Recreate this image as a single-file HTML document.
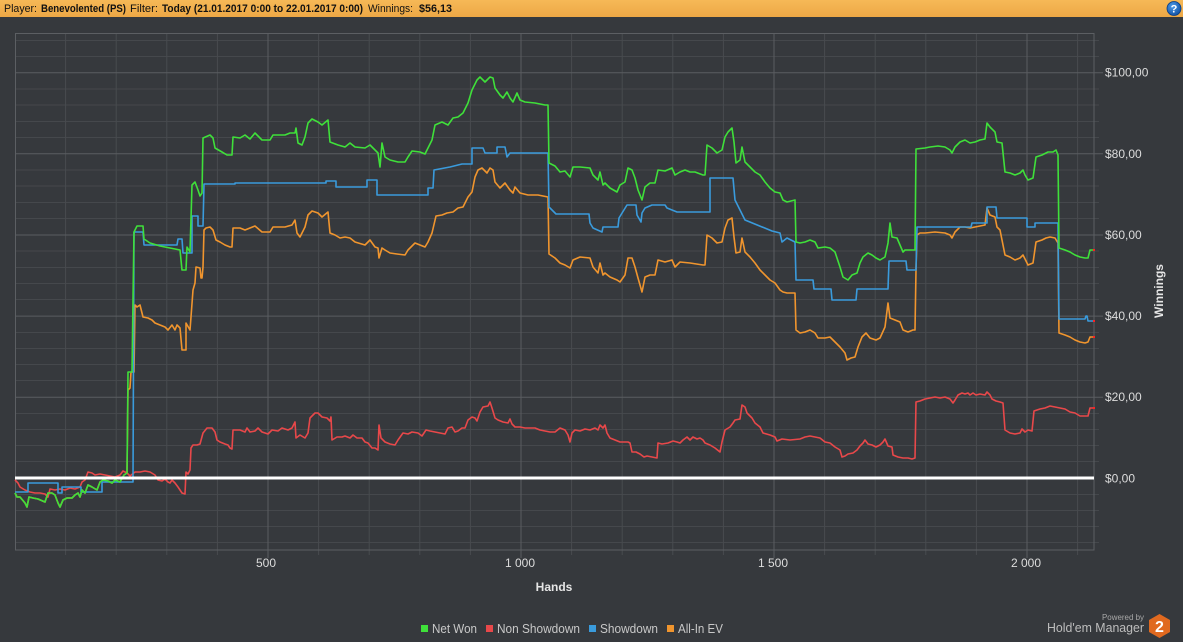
<!DOCTYPE html>
<html><head><meta charset="utf-8"><style>
html,body{margin:0;padding:0;background:#36393d;width:1183px;height:642px;overflow:hidden}
svg{display:block}
text{font-family:"Liberation Sans",sans-serif}
</style></head><body>
<svg width="1183" height="642" viewBox="0 0 1183 642" xmlns="http://www.w3.org/2000/svg">
<defs>
<linearGradient id="hb" x1="0" y1="0" x2="0" y2="1"><stop offset="0" stop-color="#f6b957"/><stop offset="1" stop-color="#eda846"/></linearGradient>
<radialGradient id="hq" cx="0.4" cy="0.35" r="0.7"><stop offset="0" stop-color="#4f9be8"/><stop offset="1" stop-color="#0f4fa3"/></radialGradient>
</defs>
<rect x="0" y="0" width="1183" height="642" fill="#36393d"/>
<!-- header -->
<rect x="0" y="0" width="1183" height="17" fill="url(#hb)"/>
<g font-size="11" fill="#111">
<text x="4" y="12" textLength="33" lengthAdjust="spacingAndGlyphs">Player:</text>
<text x="41" y="12" font-weight="bold" textLength="85" lengthAdjust="spacingAndGlyphs">Benevolented (PS)</text>
<text x="130" y="12" textLength="28" lengthAdjust="spacingAndGlyphs">Filter:</text>
<text x="162" y="12" font-weight="bold" textLength="201" lengthAdjust="spacingAndGlyphs">Today (21.01.2017 0:00 to 22.01.2017 0:00)</text>
<text x="368" y="12" textLength="45" lengthAdjust="spacingAndGlyphs">Winnings:</text>
<text x="419" y="12" font-weight="bold" textLength="33" lengthAdjust="spacingAndGlyphs">$56,13</text>
</g>
<circle cx="1174" cy="8.5" r="7" fill="url(#hq)" stroke="#0b3d80" stroke-width="0.8"/>
<text x="1174" y="12.5" font-size="11" font-weight="bold" fill="#fff" text-anchor="middle">?</text>

<!-- grid minor horizontal -->
<g stroke="#45484c" stroke-width="1">
<path d="M15 40.5H1099M15 56.5H1099M15 89H1099M15 105H1099M15 121.5H1099M15 137.5H1099M15 170H1099M15 186H1099M15 202.5H1099M15 218.5H1099M15 251H1099M15 267.5H1099M15 283.5H1099M15 299.5H1099M15 332.5H1099M15 348.5H1099M15 364.5H1099M15 380.5H1099M15 413.5H1099M15 429.5H1099M15 445.5H1099M15 461.5H1099M15 494.5H1099M15 510.5H1099M15 526.5H1099M15 542.5H1099"/>
</g>
<!-- vertical grid -->
<g stroke="#484b4f" stroke-width="1">
<path d="M65.6 33V555M116.2 33V555M166.8 33V555M217.4 33V555M318.6 33V555M369.2 33V555M419.8 33V555M470.4 33V555M571.6 33V555M622.2 33V555M672.8 33V555M723.4 33V555M824.6 33V555M875.2 33V555M925.8 33V555M976.4 33V555M1077.6 33V555"/>
</g>
<g stroke="#5a5d61" stroke-width="1">
<path d="M268 33V558M521 33V558M774 33V558M1027 33V558"/>
<path d="M15 72.7H1103M15 153.8H1103M15 235H1103M15 316.1H1103M15 397.2H1103"/>
</g>
<!-- border -->
<rect x="15.5" y="33.5" width="1078.5" height="516.5" fill="none" stroke="#5c5f63" stroke-width="1"/>

<!-- axis labels -->
<g font-size="12" fill="#dcdcdc">
<text x="1105" y="76.7">$100,00</text>
<text x="1105" y="157.8">$80,00</text>
<text x="1105" y="239">$60,00</text>
<text x="1105" y="320.1">$40,00</text>
<text x="1105" y="401.2">$20,00</text>
<text x="1105" y="482.3">$0,00</text>
<text x="266" y="567" text-anchor="middle">500</text>
<text x="520" y="567" text-anchor="middle">1 000</text>
<text x="773" y="567" text-anchor="middle">1 500</text>
<text x="1026" y="567" text-anchor="middle">2 000</text>
</g>
<text x="554" y="591" font-size="12" font-weight="bold" fill="#e6e6e6" text-anchor="middle">Hands</text>
<text transform="translate(1163,291) rotate(-90)" font-size="12" font-weight="bold" fill="#e6e6e6" text-anchor="middle">Winnings</text>

<!-- series -->
<g fill="none" stroke-width="1.6" stroke-linejoin="round">
<polyline stroke="#e8484a" points="15,480 18,483 20,487 25,490 30,492 35,493 40,493 45,494 48,497 50,489 55,490 60,489 65,490 70,488 75,489 80,487 82,482 85,480 88,472 92,473 95,475 100,474 105,475 110,476 115,477 120,475 123,471 127,473 130,476 135,472 140,472 145,471 150,472 155,475 158,480 162,481 165,479 168,482 170,483 172,480 175,483 178,487 180,490 182,493 185,494 186,472 188,474 190,470 191,448 193,445 197,445 200,444 203,433 207,428 212,428 215,432 217,440 220,442 225,444 228,445 230,448 232,449 233,430 240,430 245,432 247,428 250,432 255,431 258,428 262,432 268,434 272,430 278,431 282,428 288,430 292,428 295,422 296,438 300,435 305,438 308,433 310,418 315,413 318,413 322,417 327,418 330,421 331,417 332,440 337,437 342,437 345,436 350,438 353,435 357,438 362,438 365,442 368,443 372,448 375,448 378,450 379,425 381,438 385,442 390,444 395,445 398,440 403,433 408,434 412,432 418,433 422,436 426,430 430,431 435,432 440,433 445,434 448,428 452,427 455,432 458,431 462,428 465,428 468,420 472,417 475,418 477,421 480,412 483,407 488,406 490,402 492,408 495,418 498,420 503,422 508,423 510,419 512,424 515,427 520,427 525,428 530,428 535,428 540,430 545,431 550,432 555,432 560,428 565,430 568,435 570,442 572,433 575,430 580,431 585,429 590,430 595,428 598,430 600,425 603,428 605,425 607,433 610,438 615,440 620,442 628,442 630,443 632,452 636,452 640,454 644,457 647,456 652,457 657,458 658,443 662,444 668,443 673,441 677,442 680,443 683,440 687,437 690,440 693,437 697,439 700,438 703,440 705,443 710,445 715,448 720,452 722,442 725,430 730,427 733,423 735,420 740,419 742,405 745,407 747,413 752,418 755,423 760,427 763,433 770,435 775,437 777,441 782,439 790,440 800,439 805,437 810,436 815,437 820,438 825,442 830,443 835,447 840,450 842,457 845,456 848,454 853,453 857,450 860,446 863,443 865,440 868,444 872,445 876,447 880,445 883,442 885,439 888,446 892,447 893,455 898,457 903,458 908,458 912,459 915,458 916,402 920,401 925,399 930,398 935,397 940,398 945,397 950,399 953,403 955,400 958,395 962,393 965,394 968,393 970,395 973,393 976,395 980,394 985,395 987,392 990,395 992,399 996,401 1000,402 1003,403 1005,430 1010,433 1015,434 1020,433 1022,429 1025,432 1028,430 1032,431 1034,411 1040,409 1045,408 1050,406 1055,407 1060,408 1065,409 1070,412 1075,413 1080,416 1088,416 1090,408 1094,408"/>
<polyline stroke="#f0952e" points="15,493 17,497 20,497 25,503 27,507 29,497 33,498 38,499 45,502 48,493 52,493 55,495 58,503 60,507 63,500 67,498 72,498 75,495 78,493 80,497 82,490 85,493 88,485 92,487 97,490 100,482 103,480 108,481 112,483 115,480 120,482 124,475 127,473 128,390 130,388 131,372 134,372 135,305 137,307 140,305 143,317 148,318 152,320 155,323 160,325 165,327 168,330 172,325 175,330 177,325 180,328 182,350 186,350 186,323 190,330 191,317 193,290 195,283 196,267 200,268 201,278 202,278 203,267 204,230 206,228 210,227 213,230 216,240 220,242 225,245 230,247 232,247 233,228 240,228 245,230 250,228 255,226 262,232 270,232 273,227 280,227 285,227 292,225 295,220 297,233 300,237 305,227 308,215 312,211 318,213 322,217 328,212 330,233 335,235 340,238 345,237 350,238 355,242 365,245 370,240 375,247 378,248 379,258 382,248 385,250 390,253 397,254 405,255 408,250 415,243 420,245 425,247 428,242 432,233 436,216 442,215 447,213 453,212 458,208 463,207 468,197 472,192 475,177 478,170 482,168 487,173 490,168 493,170 495,182 500,188 505,183 510,190 513,193 515,187 520,193 528,195 538,195 548,197 549,254 555,258 560,263 565,265 570,268 573,260 580,257 590,258 593,267 598,273 600,263 603,275 605,273 610,277 617,280 620,282 625,275 628,258 632,258 635,267 638,278 642,292 645,277 650,275 655,275 658,260 665,262 672,260 675,267 680,262 690,263 703,265 705,265 707,235 712,238 717,243 722,242 725,228 728,220 732,218 734,237 736,253 740,252 742,238 745,252 750,257 755,263 760,270 765,275 770,280 775,283 780,290 783,292 787,293 795,293 796,330 800,333 805,332 810,330 815,333 818,338 825,338 830,337 835,342 840,347 845,353 847,360 851,358 855,357 858,347 862,337 866,333 870,338 876,340 880,338 885,327 888,303 890,318 895,320 900,322 903,330 908,332 913,330 915,330 916,270 917,235 920,233 925,233 935,232 945,233 950,235 952,238 955,232 960,227 965,227 970,228 975,227 980,226 985,225 987,208 990,215 995,217 997,227 1000,230 1005,255 1010,257 1015,260 1020,258 1023,255 1025,259 1028,265 1033,263 1036,242 1042,240 1046,238 1050,237 1055,238 1058,243 1059,333 1065,335 1070,337 1075,340 1080,342 1085,343 1088,342 1090,337 1094,337"/>
<polyline stroke="#3a9bdc" points="15,492 28,492 28,483 58,483 58,493 62,493 62,487 81,487 81,492 102,492 102,482 128,482 133,482 134,232 143,232 144,245 177,245 178,239 182,239 183,253 192,253 192,216 198,216 198,226 203,226 204,184 235,184 235,183 326,183 326,181 336,181 336,187 367,187 367,180 377,180 377,195 428,195 428,188 433,188 434,170 450,167 462,164 472,164 472,148 483,148 485,153 497,153 497,147 505,147 507,157 510,153 548,153 549,207 556,214 589,214 590,223 593,228 602,232 603,227 618,227 619,218 627,205 636,205 637,215 641,222 642,213 645,208 652,205 665,205 667,208 677,212 710,212 710,178 733,178 735,200 745,220 772,231 780,233 782,242 787,238 795,242 796,280 813,280 814,289 831,289 832,300 856,300 857,289 888,289 889,261 906,261 907,270 916,270 917,227 971,227 972,223 987,223 987,207 996,207 997,218 1027,218 1027,227 1035,227 1035,223 1058,223 1059,319 1085,319 1086,316 1087,316 1088,321 1094,321"/>
<polyline stroke="#3fe03a" points="15,493 17,497 20,497 25,503 27,507 29,497 33,498 38,499 45,502 48,493 52,493 55,495 58,503 60,507 63,500 67,498 72,498 75,495 78,493 80,497 82,490 85,493 88,485 92,487 97,490 100,482 103,480 108,481 112,483 115,480 120,482 124,475 127,473 128,372 132,372 133,300 134,232 137,226 143,226 144,239 150,243 160,246 170,248 180,250 182,270 186,270 187,247 190,252 192,185 195,182 198,190 200,196 202,193 203,138 210,135 213,138 215,148 222,152 227,155 232,155 233,137 240,138 245,135 250,139 255,133 262,140 270,140 273,135 285,135 290,133 295,133 296,128 298,143 302,145 305,137 308,123 312,119 318,122 322,125 328,120 330,142 338,145 345,147 350,143 355,147 365,148 370,145 375,150 378,153 380,167 382,143 385,157 390,160 398,162 405,162 408,157 412,151 420,152 425,154 428,148 432,140 435,125 442,122 448,125 453,118 458,117 463,113 468,103 472,90 477,80 480,77 485,82 490,77 493,78 495,88 500,95 503,98 507,92 510,98 513,102 517,93 520,100 525,102 535,103 545,105 548,105 549,163 555,166 560,172 565,171 570,177 573,167 580,167 590,168 593,175 598,180 600,172 603,185 605,183 610,188 617,192 620,185 625,182 628,168 632,170 635,178 638,190 642,200 645,187 650,183 655,183 658,170 665,171 672,168 675,175 680,172 685,170 690,172 695,172 703,175 705,175 707,145 712,148 717,153 722,150 725,137 728,132 732,128 734,142 736,163 740,160 742,147 745,162 750,167 755,172 760,175 765,182 770,188 775,192 780,193 783,200 787,202 795,200 796,242 800,243 805,242 810,240 815,242 818,248 825,247 830,248 835,252 840,267 843,277 848,280 852,275 857,273 860,263 863,257 868,253 872,255 876,258 880,260 885,257 888,243 890,223 892,237 897,238 903,252 905,250 913,250 915,250 916,149 925,148 930,147 938,146 945,147 950,150 952,153 955,147 960,142 965,140 970,143 975,142 980,140 985,139 987,123 990,127 995,132 997,142 1002,143 1005,172 1010,173 1015,175 1020,173 1023,170 1025,175 1028,180 1033,178 1036,157 1042,155 1046,153 1048,152 1053,152 1056,150 1058,155 1059,248 1065,250 1070,252 1075,255 1080,257 1085,258 1088,258 1090,250 1094,250"/>
</g>
<g fill="#ff2020">
<rect x="1093" y="249" width="2" height="2"/><rect x="1093" y="320" width="2" height="2"/><rect x="1093" y="336" width="2" height="2"/><rect x="1093" y="407" width="2" height="2"/>
</g>
<!-- zero line -->
<rect x="15" y="476.5" width="1079" height="3" fill="#ffffff"/>

<!-- legend -->
<rect x="421" y="625" width="7" height="7" fill="#3fe03a"/>
<rect x="486" y="625" width="7" height="7" fill="#e8484a"/>
<rect x="589" y="625" width="7" height="7" fill="#3a9bdc"/>
<rect x="667" y="625" width="7" height="7" fill="#f0952e"/>
<g font-size="12.5" fill="#c8c8c8">
<text x="432" y="633" textLength="45" lengthAdjust="spacingAndGlyphs">Net Won</text>
<text x="497" y="633" textLength="83" lengthAdjust="spacingAndGlyphs">Non Showdown</text>
<text x="600" y="633" textLength="58" lengthAdjust="spacingAndGlyphs">Showdown</text>
<text x="678" y="633" textLength="45" lengthAdjust="spacingAndGlyphs">All-In EV</text>
</g>

<!-- logo -->
<text x="1102" y="620" font-size="8.5" fill="#a8a8a8" textLength="42" lengthAdjust="spacingAndGlyphs">Powered by</text>
<text x="1047" y="632" font-size="13" fill="#bdbdbd" textLength="97" lengthAdjust="spacingAndGlyphs">Hold'em Manager</text>
<polygon points="1159.5,614 1170,620 1170,632 1159.5,638 1149,632 1149,620" fill="#e0691f"/>
<text x="1159.5" y="632" font-size="16" font-weight="bold" fill="#ffffff" text-anchor="middle">2</text>
</svg>
</body></html>
